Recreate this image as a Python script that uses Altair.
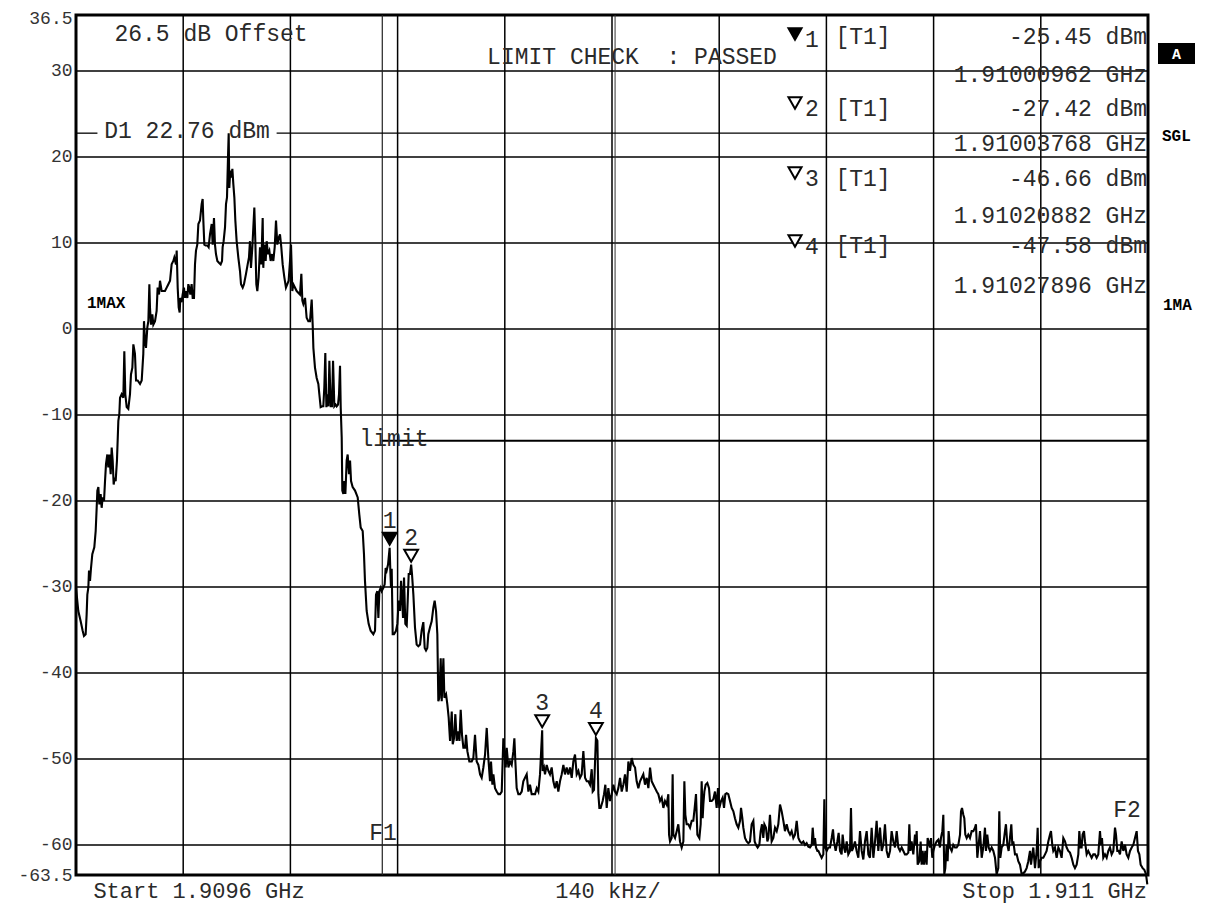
import altair as alt
import pandas as pd

# ---------------- instrument settings ----------------
START_GHZ = 1.9096
STOP_GHZ = 1.911
SPAN_KHZ = 1400            # 140 kHz / div, 10 divisions
REF_TOP = 36.5
REF_BOTTOM = -63.5
D1_DBM = 22.76
LIMIT_DBM = -13.0
F1_GHZ = 1.910
OFFSET_DB = 26.5

y_tick_values = [36.5, 30, 20, 10, 0, -10, -20, -30, -40, -50, -60, -63.5]
grid_khz = [140, 280, 420, 560, 700, 840, 980, 1120, 1260]
grid_db = [30, 20, 10, 0, -10, -20, -30, -40, -50, -60]
extra_line_khz = [704]               # faint second line next to the centre division
d1_gap_khz = [28, 262]               # D1 display line is interrupted by its label

# ---------------- markers ----------------
marker_ids = ["1", "2", "3", "4"]
marker_ghz = [1.91000962, 1.91003768, 1.91020882, 1.91027896]
marker_dbm = [-25.45, -27.42, -46.66, -47.58]

# ---------------- trace: (offset from start in kHz, level in dBm) ----------------
trace_main_lobe = [
    (0.0, -30.1), (3.0, -32.8), (6.1, -34.0), (8.7, -35.1), (10.4, -35.7), (12.6, -35.5),
    (13.9, -33.2), (14.8, -30.9), (16.1, -30.1), (17.0, -28.1), (18.3, -29.3), (19.6, -27.8),
    (21.3, -26.2), (22.6, -25.8), (23.9, -25.4), (25.7, -23.5), (27.0, -20.8), (27.9, -18.8),
    (29.2, -18.4), (30.5, -20.4), (32.2, -19.2), (33.5, -20.8), (34.8, -19.6), (36.6, -20.0),
    (37.9, -17.7), (39.2, -15.7), (40.9, -14.6), (42.2, -16.1), (43.5, -14.6), (45.3, -16.9),
    (46.6, -13.8), (47.9, -15.3), (49.2, -18.1), (50.5, -17.3), (51.8, -17.7), (53.5, -15.3),
    (55.3, -10.7), (56.6, -9.9), (57.5, -8.0), (59.6, -7.6), (61.8, -8.0), (63.1, -2.6),
    (64.4, -7.6), (66.2, -9.1), (68.3, -9.3), (70.5, -7.6), (71.8, -5.3), (73.6, -4.5),
    (74.9, -1.8), (77.0, -2.9), (78.4, -6.0), (80.5, -6.0), (83.6, -6.4), (85.8, -6.0),
    (87.9, -2.9), (88.8, 0.9), (90.1, -1.4), (91.4, -2.2), (93.2, 0.2), (94.5, 0.9),
    (95.8, 5.2), (96.6, 2.5), (97.9, 0.5), (99.7, 1.7), (101.0, 0.5), (103.2, 0.9),
    (105.3, 2.1), (106.6, 4.8), (108.4, 4.0), (109.7, 5.6), (111.9, 4.4), (116.2, 4.4),
    (118.4, 4.8), (120.6, 5.2), (122.8, 5.6), (124.9, 7.5), (127.1, 7.9), (128.4, 8.3),
    (130.6, 7.5), (131.5, 9.1), (132.8, 4.8), (134.1, 2.5), (135.4, 1.9), (136.2, 3.6),
    (138.0, 3.1), (139.3, 4.0), (141.0, 4.8), (142.3, 3.6), (143.6, 4.4), (145.4, 3.6),
    (146.7, 5.2), (148.0, 4.8), (149.3, 4.0), (151.0, 5.2), (152.4, 3.6), (154.1, 3.6),
    (155.4, 7.5), (156.7, 9.1), (158.4, 9.8), (159.8, 12.2), (161.9, 12.6), (164.1, 14.5),
    (165.4, 15.1), (166.3, 12.6), (167.6, 9.8), (169.3, 9.7), (171.5, 9.7), (173.2, 9.5),
    (175.0, 11.0), (177.2, 12.2), (178.5, 9.8), (180.2, 12.9), (181.5, 9.8), (182.8, 8.7),
    (184.6, 7.9), (186.7, 7.7), (188.9, 7.5), (190.7, 7.9), (191.5, 9.5), (192.8, 10.2),
    (194.6, 11.8), (195.9, 14.5), (197.2, 15.3), (198.5, 19.9), (199.4, 22.76), (200.2, 16.4),
    (201.5, 18.4), (202.8, 17.6), (204.2, 18.6), (205.5, 16.8), (206.8, 15.3), (208.1, 12.6),
    (209.8, 10.2), (212.0, 8.3), (214.2, 6.7), (215.5, 5.2), (217.7, 4.8), (219.4, 5.2),
    (222.0, 6.4), (224.2, 7.5), (225.9, 8.3), (227.2, 10.2), (228.5, 7.1), (230.3, 9.5),
    (231.6, 11.8), (232.9, 14.1), (234.2, 10.2), (235.5, 5.2), (236.8, 4.4), (238.5, 6.0),
    (240.3, 9.5), (242.0, 7.5), (243.8, 12.9), (244.6, 7.1), (245.9, 9.8), (247.7, 7.9),
    (249.0, 10.2), (250.7, 8.7), (252.5, 9.1), (254.2, 7.9), (256.0, 8.7), (257.7, 7.9),
    (259.5, 9.5), (261.2, 12.6), (262.9, 9.8), (264.7, 10.6), (266.4, 11.0), (268.1, 9.5),
    (269.9, 7.5), (272.1, 6.0), (274.2, 4.8), (276.0, 5.2), (277.7, 5.6), (279.5, 7.9),
    (280.8, 9.8), (282.5, 4.4), (283.8, 5.2), (288.2, 4.4), (292.5, 4.0), (294.3, 6.4),
    (295.6, 3.3), (296.9, 2.9), (299.1, 3.6), (301.2, 1.3), (303.4, 0.9),
]

trace_upper_skirt = [
    (305.6, 0.9), (307.8, 3.4), (309.1, 0.5), (310.0, -2.2), (312.1, -4.5), (314.3, -5.7),
    (316.5, -6.4), (317.8, -7.6), (319.5, -9.1), (321.7, -9.0), (323.0, -9.0), (324.3, -6.8),
    (325.6, -2.8), (327.0, -9.1), (328.3, -7.6), (329.6, -9.0), (330.9, -3.7), (332.6, -9.0),
    (334.3, -9.0), (335.7, -3.7), (337.4, -9.0), (339.1, -8.8), (340.4, -9.0), (342.2, -8.8),
    (343.5, -7.6), (344.8, -4.3), (345.7, -9.1), (347.0, -12.6), (347.8, -18.8), (349.2, -19.2),
    (350.5, -17.7), (351.8, -19.2), (353.5, -15.3), (354.8, -14.6), (356.5, -16.9), (357.9, -15.3),
    (359.2, -17.7), (361.3, -18.4), (364.4, -18.8), (367.9, -19.6), (370.0, -21.6), (371.8, -23.1),
    (374.4, -23.5), (376.1, -26.2), (377.4, -29.3), (379.6, -32.8), (382.2, -34.3), (384.8, -35.1),
    (388.3, -35.5), (390.5, -35.1), (391.8, -30.9), (393.5, -30.5), (394.9, -33.6), (396.2, -30.5),
    (397.9, -30.1), (399.2, -30.5), (401.4, -30.1), (403.1, -29.7), (404.4, -27.8), (405.7, -28.1),
    (407.5, -27.4), (409.6, -25.45), (410.5, -28.1), (411.4, -30.1), (412.3, -27.9), (413.6, -35.5),
    (415.3, -35.5), (417.9, -35.1), (419.7, -34.3), (421.4, -31.6), (423.2, -32.8), (424.5, -29.3),
    (425.8, -31.2), (427.1, -33.6), (428.4, -28.9), (430.1, -34.3), (431.9, -34.5), (433.2, -31.6),
    (434.5, -28.5), (436.2, -28.5), (437.7, -27.42), (438.8, -28.5), (440.6, -30.9), (442.7, -34.7),
    (444.9, -36.7), (447.1, -36.9), (449.3, -36.7), (451.4, -35.1), (453.6, -34.1), (455.4, -37.1),
    (457.1, -37.4), (458.8, -37.1), (460.1, -35.5), (462.3, -34.7), (464.5, -34.0), (466.7, -32.4),
    (468.4, -31.6), (470.2, -32.8),
]

trace_shoulder = [
    (471.9, -35.5), (473.2, -43.3), (474.5, -42.9), (476.3, -38.3), (477.6, -43.3), (479.8, -38.3),
    (481.1, -42.9), (483.3, -42.5), (485.0, -43.7), (486.7, -45.2), (488.5, -47.9), (490.7, -44.5),
    (492.0, -48.3), (493.7, -47.6), (495.4, -44.8), (497.2, -47.9), (499.4, -46.8), (500.7, -47.9),
    (502.4, -44.3), (504.1, -47.2), (505.9, -48.7), (508.1, -48.7), (509.4, -47.2), (511.1, -49.1),
    (513.7, -50.3), (516.8, -50.3), (518.9, -49.9), (521.1, -47.2), (523.3, -50.3), (525.5, -50.7),
    (527.7, -51.8), (529.8, -52.2), (532.0, -51.0), (534.2, -49.5), (536.4, -46.4), (538.5, -49.9),
    (540.7, -52.6), (542.0, -50.3), (543.8, -53.0), (545.1, -51.8), (547.2, -53.4), (549.4, -53.8),
    (551.6, -54.1), (553.8, -54.1), (556.0, -53.8), (558.1, -47.6), (559.9, -49.5), (561.2, -51.0),
    (562.5, -48.7), (564.7, -51.0), (566.8, -50.3), (569.0, -50.7), (571.2, -49.1), (572.5, -47.6),
    (573.8, -50.3), (575.5, -53.4), (577.7, -54.1), (579.9, -54.1), (582.1, -53.8), (584.2, -52.6),
    (586.4, -52.2), (588.6, -51.8), (590.8, -53.8), (592.9, -53.0), (595.1, -54.1), (597.3, -54.1),
    (599.5, -54.1), (601.7, -53.4), (603.8, -53.8), (606.0, -51.8), (608.8, -46.66), (609.5, -51.4),
    (611.2, -51.0), (612.5, -51.8), (614.7, -50.7), (616.9, -51.4), (619.0, -51.8), (621.2, -51.0),
    (623.4, -52.6), (625.6, -53.4), (627.8, -52.6), (629.9, -53.8), (632.1, -52.6), (634.3, -51.8),
    (636.5, -50.7), (638.6, -51.8), (640.8, -51.0), (643.0, -51.8), (645.2, -51.0), (647.4, -52.2),
    (649.5, -50.3), (651.7, -49.5), (653.9, -51.8), (656.1, -51.4), (658.2, -52.2), (660.4, -51.8),
    (662.6, -49.1), (664.8, -52.2), (667.0, -52.6), (669.1, -52.6), (671.3, -53.0), (673.5, -51.2),
    (674.8, -53.8), (676.5, -53.6), (679.0, -47.58), (680.9, -47.9), (682.2, -54.1), (683.5, -55.7),
    (685.2, -55.7), (687.8, -54.9), (689.6, -54.1), (691.3, -53.0), (693.1, -55.7), (695.2, -53.4),
    (697.4, -54.9), (699.6, -54.1), (701.8, -53.0), (703.9, -53.8), (706.1, -54.1), (708.3, -53.4),
    (710.5, -52.2), (712.7, -53.8), (714.8, -53.0), (717.0, -51.8), (719.2, -53.8), (721.4, -50.3),
    (723.5, -51.4), (725.7, -49.9), (727.9, -50.7), (730.1, -51.0), (732.2, -52.6), (734.4, -53.4),
    (736.6, -52.6), (738.8, -52.2), (740.9, -51.8), (743.1, -53.0), (745.3, -52.2), (747.5, -53.4),
    (749.7, -51.0), (751.8, -52.6), (754.0, -53.0), (756.2, -53.4), (758.4, -53.8), (760.5, -54.1),
    (762.7, -54.9), (764.9, -54.5), (767.1, -55.7), (769.2, -54.9), (771.4, -55.3), (773.6, -54.1),
]

trace_floor_a = [
    (774.5, -58.8), (775.8, -59.6), (777.9, -59.2), (779.2, -51.8), (780.1, -58.8), (782.3, -59.2),
    (784.5, -58.4), (786.6, -57.6), (788.8, -59.6), (791.0, -60.3), (793.2, -59.6), (794.5, -52.6),
    (795.8, -56.5), (797.5, -57.6), (799.7, -57.6), (801.9, -58.0), (804.1, -57.2), (806.2, -57.2),
    (808.0, -55.7), (809.7, -54.1), (811.5, -58.8), (814.1, -59.2), (815.8, -57.6), (817.1, -52.6),
    (818.4, -56.9), (819.3, -55.3), (820.6, -53.8), (822.3, -53.0), (824.5, -52.8), (826.7, -53.4),
    (828.0, -54.9), (830.2, -54.9), (832.3, -54.7), (834.5, -53.8), (836.7, -55.7), (838.4, -53.4),
    (840.2, -55.7), (842.4, -54.9), (844.5, -54.5), (846.3, -55.7), (848.0, -54.1), (849.8, -54.0),
    (851.9, -54.1), (854.1, -54.9), (856.3, -55.7), (858.5, -56.1), (860.6, -56.9), (862.8, -57.6),
    (865.0, -58.0), (867.2, -57.2), (868.5, -55.7), (870.2, -56.9), (871.5, -58.0), (873.7, -59.2),
    (875.9, -59.6), (878.1, -59.8), (880.2, -59.6), (882.4, -57.6), (884.6, -57.2), (886.3, -59.6),
    (888.1, -60.0), (890.2, -60.3), (892.4, -60.0), (894.2, -58.4), (895.9, -57.6), (897.6, -59.2),
    (899.0, -57.6), (901.1, -58.0), (902.9, -59.6), (904.2, -59.2), (906.3, -56.5), (908.5, -59.6),
    (910.7, -59.2), (912.9, -58.0), (915.1, -58.4), (917.2, -57.6), (919.4, -55.3), (921.6, -56.1),
    (923.8, -57.2), (925.9, -58.4), (928.1, -57.6), (930.3, -58.4), (932.5, -58.8), (934.6, -58.4),
    (936.8, -59.2), (939.0, -58.8), (941.2, -57.2), (943.4, -59.2), (945.5, -59.6), (947.7, -59.8),
    (949.9, -59.6), (952.1, -60.0), (954.2, -59.8), (956.4, -60.2), (958.6, -60.3), (960.8, -60.0),
    (962.1, -58.0), (963.8, -60.0), (965.1, -59.2), (966.4, -60.3), (968.2, -60.7), (969.5, -60.7),
    (971.6, -61.1), (973.8, -61.5), (976.0, -61.1), (977.3, -54.7), (978.6, -60.3), (980.4, -60.7),
    (982.5, -60.3), (984.7, -60.3), (986.9, -59.2), (988.6, -58.2), (989.9, -59.6), (992.1, -60.7),
    (994.3, -59.6), (996.0, -58.6), (997.8, -60.7), (999.9, -61.1), (1001.2, -58.8), (1003.0, -60.3),
    (1004.7, -60.9), (1006.5, -59.6), (1008.6, -61.1), (1010.8, -60.7), (1012.1, -55.7), (1013.4, -60.7),
    (1015.2, -60.3), (1017.3, -59.6), (1019.5, -60.7), (1021.7, -61.5), (1023.9, -58.4), (1026.1, -60.7),
    (1028.2, -61.7), (1030.4, -59.6), (1032.6, -58.4), (1034.8, -61.1), (1036.9, -61.5), (1039.1, -58.0),
    (1041.3, -61.5), (1043.5, -59.6), (1045.6, -57.2), (1047.8, -60.7), (1050.0, -58.0), (1052.2, -60.7),
    (1054.3, -60.0), (1056.5, -57.6), (1058.7, -60.7), (1060.9, -61.5), (1063.1, -60.7), (1065.2, -58.4),
    (1067.4, -59.6), (1069.6, -60.3), (1071.8, -58.4), (1073.9, -60.3), (1076.1, -60.7), (1078.3, -60.3),
    (1080.5, -60.7), (1082.6, -61.1), (1084.8, -61.1), (1087.0, -60.9),
]

trace_floor_b = [
    (1088.3, -57.6), (1089.6, -60.7), (1091.3, -59.6), (1093.5, -61.1), (1095.7, -58.8), (1097.0, -60.0),
    (1097.9, -58.4), (1099.2, -62.3), (1101.3, -61.9), (1103.1, -59.6), (1104.4, -62.3), (1105.7, -60.7),
    (1107.4, -62.3), (1109.2, -60.7), (1110.9, -62.3), (1112.2, -59.2), (1113.5, -59.6), (1115.3, -60.3),
    (1116.6, -59.2), (1118.3, -61.5), (1119.6, -60.7), (1121.8, -60.0), (1124.0, -59.6), (1126.2, -59.4),
    (1128.3, -60.3), (1129.6, -59.2), (1131.4, -58.4), (1132.7, -56.5), (1134.0, -63.4), (1135.3, -62.7),
    (1137.0, -60.0), (1138.3, -61.9), (1139.6, -58.4), (1141.4, -60.3), (1143.6, -60.7), (1145.7, -60.0),
    (1147.9, -60.3), (1150.1, -60.3), (1152.3, -60.0), (1154.5, -58.8), (1155.8, -56.1), (1157.1, -55.7),
    (1158.8, -56.5), (1160.1, -56.9), (1161.4, -58.8), (1163.2, -59.2), (1165.3, -58.8), (1167.5, -59.2),
    (1169.7, -58.4), (1171.9, -58.4), (1174.0, -58.0), (1175.3, -57.6), (1177.1, -61.5), (1178.8, -60.0),
    (1180.6, -58.4), (1182.8, -61.5), (1184.9, -60.3), (1187.1, -58.0), (1188.4, -60.7), (1190.1, -58.8),
    (1191.9, -60.3), (1193.6, -60.7), (1195.8, -60.3), (1198.0, -60.7), (1200.2, -61.5), (1202.3, -63.4),
    (1204.5, -62.7), (1205.8, -56.1), (1207.1, -61.5), (1208.9, -60.3), (1211.0, -60.0), (1213.2, -58.4),
    (1214.5, -57.6), (1216.3, -60.0), (1218.0, -60.7), (1219.7, -59.2), (1221.5, -57.6), (1222.8, -60.0),
    (1224.1, -59.6), (1226.3, -61.1), (1228.5, -61.1), (1230.6, -61.9), (1232.8, -62.3), (1235.0, -63.4),
    (1237.2, -63.3), (1239.3, -63.1), (1241.5, -62.7), (1243.7, -61.9), (1245.9, -60.7), (1247.2, -62.3),
    (1248.9, -61.1), (1250.2, -60.3), (1252.4, -62.7), (1254.6, -60.7), (1255.9, -58.0), (1257.2, -62.7),
    (1258.9, -61.9), (1261.1, -61.5), (1263.3, -61.5), (1265.5, -61.1), (1267.6, -60.7), (1269.8, -59.6),
    (1272.0, -58.8), (1273.3, -58.4), (1275.0, -60.0), (1276.3, -60.7), (1278.5, -60.3), (1280.7, -61.5),
    (1282.9, -60.3), (1285.0, -60.7), (1287.2, -61.5), (1289.4, -59.2), (1291.6, -59.6), (1293.7, -60.3),
    (1295.9, -60.7), (1298.1, -60.9), (1300.3, -61.5), (1302.5, -62.3), (1304.6, -62.7), (1306.8, -62.3),
    (1309.0, -61.1), (1310.3, -58.4), (1312.0, -60.3), (1313.3, -60.3), (1314.6, -58.8), (1316.4, -58.4),
    (1317.7, -59.6), (1319.9, -61.1), (1322.0, -60.7), (1324.2, -61.1), (1326.4, -61.5), (1328.6, -61.1),
    (1330.7, -61.1), (1332.9, -61.5), (1335.1, -61.1), (1337.3, -58.4), (1338.6, -60.0), (1339.9, -59.2),
    (1341.6, -61.5), (1343.8, -61.1), (1346.0, -61.5), (1348.2, -60.7), (1350.3, -60.3), (1352.5, -61.1),
    (1354.7, -60.7), (1356.9, -58.0), (1358.2, -58.8), (1359.9, -60.7), (1361.7, -60.7), (1363.4, -61.1),
    (1365.6, -59.6), (1367.8, -60.7), (1370.0, -60.0), (1372.1, -61.1), (1374.3, -61.5), (1376.5, -60.7),
    (1378.7, -60.3), (1380.8, -60.0), (1383.0, -59.2), (1385.2, -58.4), (1386.9, -60.7), (1388.7, -61.1),
    (1390.4, -62.3), (1393.0, -62.7), (1395.2, -62.9), (1397.4, -63.4), (1399.1, -64.6),
]

# ---------------- styling ----------------
MONO = "Liberation Mono"
INK = "#2a2a2a"
TXT = 23

trace = pd.DataFrame(
    trace_main_lobe + trace_upper_skirt + trace_shoulder + trace_floor_a + trace_floor_b,
    columns=["khz", "dbm"],
)
markers = pd.DataFrame({
    "id": marker_ids,
    "khz": [(f - START_GHZ) * 1e6 for f in marker_ghz],
    "dbm": marker_dbm,
})

xs = alt.Scale(domain=[0, SPAN_KHZ], nice=False, zero=False)
ys = alt.Scale(domain=[REF_BOTTOM, REF_TOP], nice=False, zero=False)
YAXIS = alt.Axis(
    values=y_tick_values, grid=False, ticks=False, domain=False, title=None,
    labelFont=MONO, labelFontSize=18, labelColor="#333", labelPadding=4,
    labelFlush=False, labelOverlap=False, labelExpr="toString(datum.value)",
    labelOffset={"condition": {"test": "datum.value == 36.5", "value": 3}, "value": 0},
)


def X(field):
    return alt.X(field, type="quantitative", scale=xs, axis=None)


def Y(field):
    return alt.Y(field, type="quantitative", scale=ys, axis=YAXIS)


def label(text, px, py, size=TXT, align="center", weight="normal", color=INK, font=MONO):
    return alt.Chart(alt.Data(values=[{"t": text}])).mark_text(
        align=align, baseline="middle", font=font, fontSize=size,
        fontWeight=weight, color=color,
    ).encode(x=alt.value(px), y=alt.value(py), text="t:N")


# grid
vgrid = alt.Chart(pd.DataFrame({"khz": grid_khz})).mark_rule(
    color="black", strokeWidth=1.5).encode(x=X("khz"))
hgrid = alt.Chart(pd.DataFrame({"db": grid_db})).mark_rule(
    color="black", strokeWidth=1.5).encode(y=Y("db"))
extra = alt.Chart(pd.DataFrame({"khz": extra_line_khz})).mark_rule(
    color="#333", strokeWidth=1).encode(x=X("khz"))
f1_line = alt.Chart(pd.DataFrame({"khz": [(F1_GHZ - START_GHZ) * 1e6]})).mark_rule(
    color="#222", strokeWidth=1.2).encode(x=X("khz"))

d1_line = alt.Chart(pd.DataFrame({
    "a": [0, d1_gap_khz[1]], "b": [d1_gap_khz[0], SPAN_KHZ], "db": [D1_DBM, D1_DBM]
})).mark_rule(color="black", strokeWidth=1.3).encode(x=X("a"), x2="b", y=Y("db"))

limit_line = alt.Chart(pd.DataFrame({
    "a": [(F1_GHZ - START_GHZ) * 1e6], "b": [SPAN_KHZ], "db": [LIMIT_DBM]
})).mark_rule(color="black", strokeWidth=2).encode(x=X("a"), x2="b", y=Y("db"))

trace_layer = alt.Chart(trace).mark_line(color="black", strokeWidth=2.1).encode(
    x=X("khz"), y=Y("dbm"), order="khz:Q",
)

marker_tri = alt.Chart(markers).mark_point(
    shape="triangle-down", size=190, yOffset=-9, strokeWidth=2, opacity=1,
    stroke="black", filled=True,
).encode(
    x=X("khz"), y=Y("dbm"),
    fill=alt.condition(alt.datum.id == "1", alt.value("black"), alt.value("white")),
)
marker_num = alt.Chart(markers).mark_text(
    dy=-27, font=MONO, fontSize=TXT, color=INK, baseline="middle"
).encode(x=X("khz"), y=Y("dbm"), text="id:N")

layers = [vgrid, hgrid, extra, f1_line, d1_line, limit_line, trace_layer, marker_tri, marker_num]

# ---------------- screen annotations (plot-pixel positions) ----------------
layers += [
    label(f"{OFFSET_DB} dB Offset", 135, 19),
    label("LIMIT CHECK\u00a0 : PASSED", 556, 42),
    label(f"D1 {D1_DBM} dBm", 111, 116),
    label("limit", 318, 424),
    label("F1", 307, 818),
    label("F2", 1051, 795),
    label(f"Start {START_GHZ} GHz", 123, 876, size=22),
    label(f"{SPAN_KHZ // 10} kHz/", 532, 876, size=22),
    label(f"Stop {STOP_GHZ} GHz", 1071, 876, size=22, align="right"),
    label("1MAX", 11, 288, size=16, align="left", weight="bold", color="black"),
    label("SGL", 1086, 121, size=16, align="left", weight="bold", color="black"),
    label("1MA", 1087, 290, size=16, align="left", weight="bold", color="black"),
]

# "A" trace badge
layers.append(alt.Chart(alt.Data(values=[{}])).mark_rect(color="black").encode(
    x=alt.value(1082), x2=alt.value(1119), y=alt.value(28), y2=alt.value(49)))
layers.append(label("A", 1100.5, 38.5, size=15, weight="bold", color="white"))

# marker table
row_y = [22, 94, 164, 231]
freq_y = [60, 129, 201, 271]
tri_y = [19, 88, 158, 226]
for i, mid in enumerate(marker_ids):
    layers.append(alt.Chart(alt.Data(values=[{}])).mark_point(
        shape="triangle-down", size=170, strokeWidth=2, opacity=1, stroke="black",
        filled=True, fill="black" if mid == "1" else "white",
    ).encode(x=alt.value(719), y=alt.value(tri_y[i])))
    layers.append(label(mid, 736, tri_y[i] + 6))
    layers.append(label("[T1]", 787, row_y[i]))
    layers.append(label(f"{marker_dbm[i]:.2f} dBm", 1071, row_y[i], align="right"))
    layers.append(label(f"{marker_ghz[i]:.8f} GHz", 1071, freq_y[i], align="right"))

chart = alt.layer(*layers).properties(
    width=1072, height=860,
    autosize=alt.AutoSizeParams(type="none"),
    padding={"left": 68, "top": 7, "right": 54, "bottom": 30},
    background="white",
).configure_view(stroke="black", strokeWidth=3)

chart.save("out.html", embed_options={"renderer": "svg", "actions": False})
